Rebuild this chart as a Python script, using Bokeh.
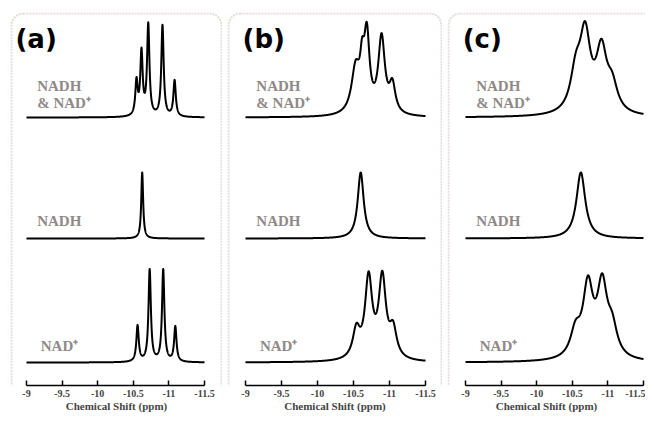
import numpy as np
from bokeh.plotting import figure
from bokeh.layouts import row, column
from bokeh.models import Range1d, FixedTicker, Spacer, BoxAnnotation
from bokeh.embed import file_html
from bokeh.resources import INLINE
from bokeh.core.properties import value

# ---------------- data ----------------
tick_values = [-9, -9.5, -10, -10.5, -11, -11.5]
tick_labels = ["-9", "-9.5", "-10", "-10.5", "-11", "-11.5"]
panel_tags = ["(a)", "(b)", "(c)"]
mix_label = ["NADH", "& NAD\u207a"]
nadh_label = "NADH"
nad_label = "NAD\u207a"
x_title = "Chemical Shift (ppm)"

# peak centres (ppm), amplitudes (arb.), half widths (ppm)
a_mix_pos = [-10.545, -10.615, -10.71, -10.91, -11.08]
a_mix_amp = [34, 63, 91, 91, 36]
a_mix_hw = [0.02, 0.02, 0.02, 0.02, 0.02]
a_nadh_pos = [-10.625]
a_nadh_amp = [66]
a_nadh_hw = [0.016]
a_nad_pos = [-10.56, -10.73, -10.92, -11.09]
a_nad_amp = [36, 92, 92, 35]
a_nad_hw = [0.02, 0.02, 0.02, 0.02]

b_mix_pos = [-10.53, -10.62, -10.685, -10.89, -11.04]
b_mix_amp = [45, 36, 74, 76, 28]
b_mix_hw = [0.07, 0.035, 0.045, 0.055, 0.05]
b_nadh_pos = [-10.60]
b_nadh_amp = [66]
b_nadh_hw = [0.05]
b_nad_pos = [-10.54, -10.71, -10.90, -11.05]
b_nad_amp = [28, 80, 80, 28]
b_nad_hw = [0.06, 0.06, 0.06, 0.06]

c_mix_pos = [-10.55, -10.68, -10.91, -11.06]
c_mix_amp = [37, 75, 60, 25]
c_mix_hw = [0.09, 0.09, 0.09, 0.09]
c_nadh_pos = [-10.62]
c_nadh_amp = [66]
c_nadh_hw = [0.075]
c_nad_pos = [-10.545, -10.72, -10.92, -11.06]
c_nad_amp = [25, 70, 70, 27]
c_nad_hw = [0.085, 0.085, 0.085, 0.085]

# ---------------- layout constants ----------------
FIG_H = 408
AXIS_H = 35
FRAME_H = FIG_H - AXIS_H
BASE_TOP, BASE_MID, BASE_BOT = 268, 147, 23
LABEL_COLOR = "#8f8987"
BORDER_COLOR = "#a58f85"


def spectrum(x, pos, amp, hw):
    y = np.zeros_like(x)
    for p0, a, g in zip(pos, amp, hw):
        y += a * g ** 2 / ((x - p0) ** 2 + g ** 2)
    return y


def make_panel(tag, tag_x, width, left_px, span_px, mix, nadh, nad, open_right=False):
    ppp = 2.5 / span_px
    x_start = -9 + left_px * ppp
    x_end = -11.5 - (width - left_px - span_px) * ppp
    p = figure(width=width, height=FIG_H, x_range=Range1d(x_start, x_end),
               y_range=Range1d(0, FRAME_H), output_backend="svg",
               toolbar_location=None, min_border_left=0, min_border_right=0,
               min_border_top=0, min_border_bottom=AXIS_H,
               y_axis_location=None)
    p.grid.visible = False
    p.outline_line_color = None
    p.background_fill_color = "white"
    p.border_fill_color = "white"

    x = np.linspace(-9, -11.5, 1501)
    for spec, base in ((mix, BASE_TOP), (nadh, BASE_MID), (nad, BASE_BOT)):
        p.line(x, base + spectrum(x, *spec), line_color="black", line_width=2,
               line_join="round")

    ax = p.xaxis[0]
    ax.ticker = FixedTicker(ticks=tick_values)
    ax.major_label_overrides = dict(zip(tick_values, tick_labels))
    ax.bounds = (-11.5, -9)
    ax.minor_tick_line_color = None
    ax.major_tick_in = 5
    ax.major_tick_out = 0
    ax.axis_line_width = 1.5
    ax.major_tick_line_width = 1.5
    ax.major_label_standoff = 4
    ax.major_label_text_font = "Liberation Serif"
    ax.major_label_text_font_style = "bold"
    ax.major_label_text_font_size = "10px"
    ax.axis_label = x_title
    ax.axis_label_standoff = 0
    ax.axis_label_text_font = "Liberation Serif"
    ax.axis_label_text_font_style = "bold"
    ax.axis_label_text_font_size = "11px"

    common = dict(text_font=value("Liberation Serif"), text_font_style="bold",
                  text_font_size="15px", text_color=LABEL_COLOR,
                  text_baseline="middle", text_align="left")
    p.text(x=[-9.15, -9.15], y=[300, 283], text=mix_label, **common)
    p.text(x=[-9.15], y=[165], text=[nadh_label], **common)
    p.text(x=[-9.2], y=[40], text=[nad_label], **common)

    p.text(x=[tag_x], y=[347], text=[tag], text_font=value("DejaVu Sans"),
           text_font_style="bold", text_font_size="26px", text_color="black",
           text_baseline="middle", text_align="left")

    right = width + 30 if open_right else width - 1
    box = BoxAnnotation(left=1, right=right, top=1, bottom=FIG_H - 1,
                        left_units="canvas", right_units="canvas",
                        top_units="canvas", bottom_units="canvas",
                        fill_alpha=0, line_color=BORDER_COLOR, line_width=2,
                        line_dash="2 1", border_radius=12, level="overlay")
    p.add_layout(box)
    return p


pa = make_panel(panel_tags[0], -8.845, 212, 16, 178,
                (a_mix_pos, a_mix_amp, a_mix_hw), (a_nadh_pos, a_nadh_amp, a_nadh_hw),
                (a_nad_pos, a_nad_amp, a_nad_hw))
pb = make_panel(panel_tags[1], -8.96, 215, 18, 180,
                (b_mix_pos, b_mix_amp, b_mix_hw), (b_nadh_pos, b_nadh_amp, b_nadh_hw),
                (b_nad_pos, b_nad_amp, b_nad_hw))
pc = make_panel(panel_tags[2], -8.96, 198, 18, 178,
                (c_mix_pos, c_mix_amp, c_mix_hw), (c_nadh_pos, c_nadh_amp, c_nadh_hw),
                (c_nad_pos, c_nad_amp, c_nad_hw), open_right=True)

layout = column(Spacer(height=12),
                row(Spacer(width=10), pa, Spacer(width=5), pb, Spacer(width=5), pc))
open("out.html", "w").write(file_html(layout, INLINE))
